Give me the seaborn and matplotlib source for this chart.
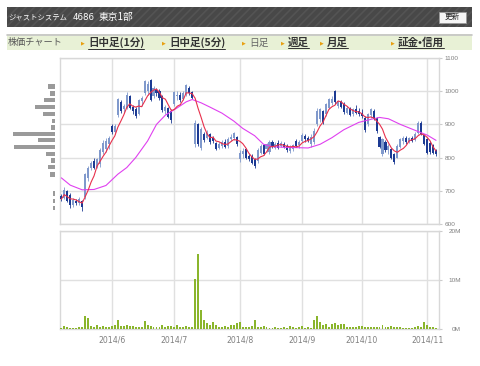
import numpy as np
import pandas as pd
import matplotlib
matplotlib.use("Agg")
import matplotlib.pyplot as plt
import seaborn as sns
from matplotlib.patches import Rectangle, FancyBboxPatch
from matplotlib.lines import Line2D

sns.set_style("white")
plt.rcParams['font.family'] = ['Noto Sans CJK JP', 'DejaVu Sans']
plt.rcParams['hatch.linewidth'] = 1.2

# =============================================================================
# Data (trading days from 2014/5/8 to 2014/11/7)
# =============================================================================
open_p = [685, 678, 698, 688, 656, 670, 662, 668, 680, 740,
          768, 790, 772, 780, 818, 825, 840, 895, 878, 928,
          968, 945, 950, 985, 952, 945, 930, 970, 995, 1000,
          1035, 985, 1005, 1002, 985, 940, 948, 940, 960, 985,
          990, 978, 990, 1010, 998, 840, 900, 830, 872, 858,
          870, 858, 845, 830, 835, 848, 835, 855, 860, 862,
          795, 810, 825, 805, 805, 795, 790, 815, 838, 825,
          818, 848, 830, 845, 835, 842, 835, 820, 825, 850,
          838, 850, 865, 858, 840, 848, 900, 915, 940, 930,
          950, 965, 1000, 955, 968, 962, 935, 948, 930, 945,
          940, 935, 920, 900, 928, 940, 918, 862, 812, 848,
          822, 825, 812, 800, 832, 850, 860, 848, 858, 852,
          875, 905, 868, 855, 845, 838, 822]
high_p = [690, 712, 702, 692, 678, 675, 680, 672, 755, 775,
          790, 798, 800, 828, 852, 858, 865, 900, 900, 980,
          972, 962, 998, 990, 958, 952, 978, 985, 1035, 1030,
          1038, 1015, 1010, 1006, 988, 958, 952, 945, 1002, 1000,
          998, 1000, 1022, 1015, 1002, 912, 905, 892, 878, 882,
          873, 866, 848, 848, 852, 855, 862, 870, 878, 866,
          822, 828, 830, 812, 810, 800, 828, 842, 842, 845,
          852, 852, 848, 852, 850, 848, 840, 838, 842, 856,
          852, 874, 872, 864, 870, 888, 948, 950, 944, 965,
          980, 985, 1004, 975, 972, 966, 955, 952, 950, 958,
          948, 945, 925, 935, 950, 945, 922, 866, 860, 852,
          840, 828, 815, 840, 860, 865, 864, 862, 864, 878,
          910, 910, 870, 860, 850, 842, 826]
low_p = [670, 675, 665, 648, 652, 658, 658, 640, 676, 730,
         762, 765, 768, 772, 812, 818, 825, 870, 872, 922,
         935, 935, 945, 945, 932, 918, 928, 955, 990, 990,
         970, 980, 985, 975, 938, 932, 918, 905, 955, 975,
         968, 975, 986, 990, 976, 832, 835, 822, 848, 856,
         842, 845, 822, 825, 830, 828, 830, 850, 852, 836,
         788, 798, 795, 790, 780, 768, 785, 812, 808, 818,
         812, 828, 826, 826, 832, 828, 818, 815, 820, 832,
         830, 846, 848, 846, 832, 842, 896, 908, 902, 925,
         945, 958, 962, 950, 948, 932, 930, 924, 926, 930,
         925, 918, 876, 895, 918, 912, 875, 828, 804, 818,
         812, 795, 780, 798, 828, 840, 842, 845, 846, 850,
         872, 868, 838, 810, 812, 810, 806]
close_p = [675, 702, 670, 656, 672, 662, 675, 650, 750, 770,
           785, 770, 795, 822, 845, 850, 860, 878, 895, 975,
           940, 955, 990, 950, 940, 925, 972, 980, 1030, 1022,
           975, 1010, 995, 980, 942, 952, 922, 912, 998, 990,
           975, 995, 1018, 995, 980, 905, 842, 885, 852, 875,
           846, 850, 826, 842, 848, 832, 856, 862, 874, 840,
           815, 820, 800, 795, 785, 775, 822, 835, 812, 840,
           848, 832, 842, 830, 845, 832, 822, 832, 838, 836,
           848, 868, 855, 850, 862, 880, 940, 945, 908, 960,
           975, 978, 968, 970, 952, 936, 950, 928, 945, 935,
           930, 925, 882, 930, 945, 916, 880, 832, 855, 822,
           835, 800, 788, 835, 855, 860, 846, 858, 850, 872,
           905, 872, 842, 815, 818, 815, 810]
volume_m = [0.3, 0.7, 0.4, 0.2, 0.2, 0.2, 0.5, 0.4, 2.6, 2.2,
            0.7, 0.4, 0.9, 0.5, 0.7, 0.4, 0.4, 0.7, 0.9, 1.9,
            0.7, 0.7, 0.9, 0.7, 0.7, 0.5, 0.5, 0.4, 1.6, 0.8,
            0.7, 0.5, 0.5, 0.4, 0.9, 0.5, 0.7, 0.7, 0.4, 0.9,
            0.4, 0.4, 0.7, 0.4, 0.4, 10.3, 15.4, 3.9, 1.9, 1.2,
            0.9, 1.5, 0.9, 0.4, 0.5, 0.7, 0.5, 0.8, 0.8, 1.2,
            1.5, 0.4, 0.4, 0.5, 0.7, 1.8, 0.5, 0.5, 0.7, 0.4,
            0.3, 0.2, 0.4, 0.3, 0.3, 0.4, 0.3, 0.7, 0.4, 0.3,
            0.4, 0.6, 0.3, 0.4, 0.3, 1.8, 2.7, 1.4, 0.8, 1.0,
            0.5, 1.1, 1.2, 0.8, 1.1, 1.0, 0.5, 0.4, 0.5, 0.4,
            0.7, 0.7, 0.5, 0.4, 0.4, 0.4, 0.4, 0.4, 0.8, 0.5,
            0.4, 0.6, 0.5, 0.4, 0.4, 0.3, 0.3, 0.3, 0.3, 0.4,
            0.7, 0.4, 1.5, 0.9, 0.4, 0.4, 0.3]

## 25 day average (day index, price)
ma25_day = [0, 3, 7, 11, 15, 19, 22, 25, 29, 32, 35, 39, 42, 44, 47, 50, 54, 58,
            61, 65, 68, 71, 75, 79, 83, 87, 91, 95, 100, 104, 107, 110, 114, 119, 123, 126]
ma25_val = [739, 717, 703, 704, 716, 750, 770, 800, 850, 900, 928, 950, 968, 975, 965, 952, 934, 910,
            888, 866, 840, 833, 831, 830, 829, 840, 860, 884, 906, 915, 921, 917, 900, 882, 868, 852]

## volume by price (left side)
vp_price = [1014, 993, 973, 953, 932, 911, 891, 872, 852, 831, 810, 791, 771, 749, 692, 669, 649]
vp_amount = [18, 13, 31, 58, 33, 7, 11, 123, 48, 121, 26, 11, 18, 13, 5, 5, 5]

month_pos = [17, 38, 60, 81, 101, 123]
month_labels = ['2014/6', '2014/7', '2014/8', '2014/9', '2014/10', '2014/11']
price_ticks = [600, 700, 800, 900, 1000, 1100]
vol_ticks = [0, 10, 20]
vol_labels = ['0M', '10M', '20M']

header_title = ['ジャストシステム', '4686', '東京1部']
nav_items = ['日中足(1分)', '日中足(5分)', '日足', '週足', '月足', '証金•信用']

# =============================================================================
# Build frame
# =============================================================================
df = pd.DataFrame({'open': open_p, 'high': high_p, 'low': low_p,
                   'close': close_p, 'volume': volume_m})
df['day'] = np.arange(len(df))
df['ma5'] = df['close'].rolling(5, min_periods=1).mean()
df['up'] = df['close'] >= df['open']

W, H = 480, 366
fig = plt.figure(figsize=(W / 100, H / 100), dpi=100)
fig.patch.set_facecolor('white')

def fbox(x0, y0, x1, y1):
    return [x0 / W, 1 - y1 / H, (x1 - x0) / W, (y1 - y0) / H]

UP_C = '#8099cc'
DN_C = '#1c3a93'
GRID_C = '#e0e0e0'
TXT_C = '#808080'

# ---- header bar
fig.add_artist(Rectangle((7 / W, 1 - 27 / H), 465 / W, 20 / H, transform=fig.transFigure,
                         facecolor='#484848', edgecolor='#545454', hatch='////', lw=0))
fig.text(8 / W, 1 - 17 / H, header_title[0], color='white', fontsize=5.3, va='center')
fig.text(73 / W, 1 - 17 / H, header_title[1], color='white', fontsize=6.2, va='center',
         family=['DejaVu Sans'])
fig.text(99 / W, 1 - 17 / H, header_title[2], color='white', fontsize=7, va='center')
fig.add_artist(FancyBboxPatch((439 / W, 1 - 22.5 / H), 27 / W, 11 / H, transform=fig.transFigure,
                              boxstyle='square,pad=0', facecolor='#f6f6f6', edgecolor='#9a9a9a', lw=0.6))
fig.text(452.5 / W, 1 - 17 / H, '更新', color='#222222', fontsize=5.5, ha='center', va='center')

# ---- navigation bar
fig.add_artist(Rectangle((7 / W, 1 - 50 / H), 465 / W, 16 / H, transform=fig.transFigure,
                         facecolor='#e8f1d6', edgecolor='none'))
fig.add_artist(Line2D([7 / W, 472 / W], [1 - 34.5 / H] * 2, transform=fig.transFigure,
                      color='#c4c4c4', lw=1.2))
fig.text(8 / W, 1 - 42.5 / H, '株価チャート', color='#555555', fontsize=6.6, va='center')
nav_x = [88, 169, 249, 288, 327, 398]
nav_bold = [True, True, False, True, True, True]
nav_texts = []
for lbl, x, b in zip(nav_items, nav_x, nav_bold):
    fig.text((x - 7) / W, 1 - 42.5 / H, '▶', color='#e8a010', fontsize=3.5, va='center',
             family=['DejaVu Sans'])
    t = fig.text(x / W, 1 - 42.5 / H, lbl, color='#333333' if b else '#666666',
                 fontsize=7.6 if b else 7, va='center', fontweight='bold' if b else 'normal')
    nav_texts.append((t, b))

# =============================================================================
# Price chart
# =============================================================================
ax = fig.add_axes(fbox(60, 58, 439, 224))
ax_vp = fig.add_axes(fbox(6, 58, 54.5, 224))
ax_v = fig.add_axes(fbox(60, 231, 439, 329))

xlim = (-0.45, 127.0)

up = df[df['up']]
dn = df[~df['up']]
for part, col in [(up, UP_C), (dn, DN_C)]:
    ax.vlines(part['day'], part['low'], part['high'], color=col, lw=0.6, zorder=3)
    body = np.maximum((part['close'] - part['open']).abs(), 2)
    ax.bar(part['day'], body, bottom=np.minimum(part['open'], part['close']),
           width=0.7, color=col, edgecolor='none', zorder=4)

sns.lineplot(x=ma25_day, y=ma25_val, ax=ax, color='#e040f0', lw=0.8, zorder=5)
sns.lineplot(data=df, x='day', y='ma5', ax=ax, color='#e8304c', lw=0.8, zorder=6)

ax.set_xlim(*xlim)
ax.set_ylim(600, 1100)
ax.set_xticks(month_pos)
ax.set_yticks(price_ticks)
ax.yaxis.tick_right()
ax.tick_params(axis='x', length=0, labelbottom=False)
ax.tick_params(axis='y', length=2.5, width=0.8, color='#cccccc', pad=1.5,
               labelsize=4.6, labelcolor=TXT_C)
for lbl in ax.get_yticklabels():
    lbl.set_fontfamily('Liberation Sans')
ax.grid(True, color=GRID_C, lw=1.0)
ax.set_xlabel('')
ax.set_ylabel('')
for s in ax.spines.values():
    s.set_color('#d8d8d8')
    s.set_linewidth(1.0)

## volume by price
ax_vp.barh(vp_price, vp_amount, height=13, color='#9a9a9a', edgecolor='none')
ax_vp.set_ylim(600, 1100)
ax_vp.set_xlim(145, 0)
ax_vp.axis('off')

# =============================================================================
# Volume chart
# =============================================================================
ax_v.bar(df['day'], df['volume'], width=0.65, color='#8ab52c', edgecolor='none', zorder=3)
ax_v.set_xlim(*xlim)
ax_v.set_ylim(0, 20)
ax_v.set_xticks(month_pos, month_labels)
ax_v.set_yticks(vol_ticks, vol_labels)
ax_v.yaxis.tick_right()
ax_v.tick_params(axis='x', length=0, pad=5, labelsize=5.6, labelcolor=TXT_C)
ax_v.tick_params(axis='y', length=2.5, width=0.8, color='#cccccc', pad=13.5,
                 labelsize=4.6, labelcolor=TXT_C)
for lbl in ax_v.get_yticklabels():
    lbl.set_horizontalalignment('right')
    lbl.set_fontfamily('Liberation Sans')
for lbl in ax_v.get_xticklabels():
    lbl.set_fontfamily('DejaVu Sans')
ax_v.grid(True, color=GRID_C, lw=1.0)
for s in ax_v.spines.values():
    s.set_color('#d8d8d8')
    s.set_linewidth(1.0)

## underline the linked nav items
fig.canvas.draw()
rend = fig.canvas.get_renderer()
for t, b in nav_texts:
    if not b:
        continue
    bb = t.get_window_extent(rend)
    fig.add_artist(Line2D([bb.x0 / W, bb.x1 / W], [(bb.y0 - 0.5) / H] * 2,
                          transform=fig.transFigure, color='#333333', lw=0.7))

fig.savefig('out.png', dpi=100)
